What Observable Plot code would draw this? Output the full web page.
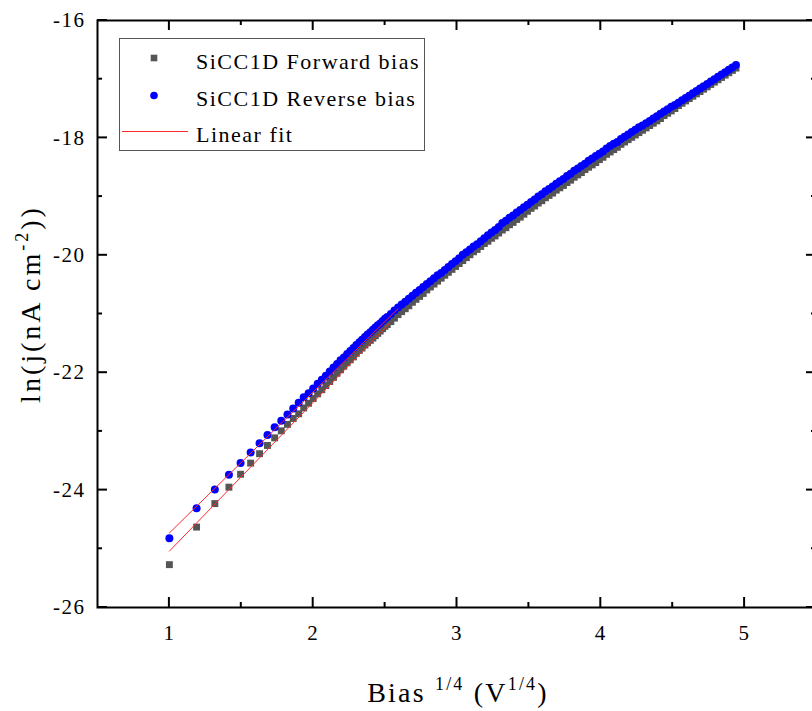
<!DOCTYPE html>
<html><head><meta charset="utf-8">
<script src="https://cdn.jsdelivr.net/npm/d3@7"></script>
<script src="https://cdn.jsdelivr.net/npm/@observablehq/plot@0.6"></script>
<style>
html,body{margin:0;padding:0;background:#fff;overflow:hidden;}
svg{font-family:"Liberation Serif",serif;}
</style></head><body><div id="chart"></div>
<script>
// Bias^(1/4) values (V^1/4)
const biasQuarter = [1, 1.189, 1.316, 1.414, 1.495, 1.565, 1.627, 1.682, 1.732, 1.778,
  1.821, 1.861, 1.899, 1.934, 1.968, 2.0, 2.031, 2.060, 2.088, 2.115,
  2.141, 2.166, 2.190, 2.213, 2.236, 2.258, 2.280, 2.300, 2.321, 2.340,
  2.360, 2.378, 2.397, 2.415, 2.432, 2.449, 2.466, 2.483, 2.499, 2.515,
  2.54, 2.565, 2.59, 2.615, 2.64, 2.665, 2.69, 2.715, 2.74, 2.765,
  2.79, 2.815, 2.84, 2.865, 2.89, 2.915, 2.94, 2.965, 2.99, 3.015,
  3.04, 3.065, 3.09, 3.115, 3.14, 3.165, 3.19, 3.215, 3.24, 3.265,
  3.29, 3.315, 3.34, 3.365, 3.39, 3.415, 3.44, 3.465, 3.49, 3.515,
  3.54, 3.565, 3.59, 3.615, 3.64, 3.665, 3.69, 3.715, 3.74, 3.765,
  3.79, 3.815, 3.84, 3.865, 3.89, 3.915, 3.94, 3.965, 3.99, 4.015,
  4.04, 4.065, 4.09, 4.115, 4.14, 4.165, 4.19, 4.215, 4.24, 4.265,
  4.29, 4.315, 4.34, 4.365, 4.39, 4.415, 4.44, 4.465, 4.49, 4.515,
  4.54, 4.565, 4.59, 4.615, 4.64, 4.665, 4.69, 4.715, 4.74, 4.765,
  4.79, 4.815, 4.84, 4.865, 4.89, 4.915, 4.94];

// SiCC1D Forward bias, ln(j)
const forwardLnJ = [-25.27, -24.63, -24.23, -23.95, -23.73, -23.54, -23.38, -23.24, -23.11, -22.99,
  -22.88, -22.78, -22.70, -22.60, -22.52, -22.44, -22.36, -22.29, -22.22, -22.15,
  -22.08, -22.01, -21.95, -21.89, -21.83, -21.78, -21.73, -21.67, -21.62, -21.58,
  -21.53, -21.49, -21.45, -21.41, -21.37, -21.33, -21.29, -21.25, -21.21, -21.18,
  -21.13, -21.07, -21.01, -20.96, -20.91, -20.86, -20.80, -20.75, -20.70, -20.65,
  -20.59, -20.54, -20.49, -20.44, -20.39, -20.34, -20.29, -20.24, -20.19, -20.14,
  -20.09, -20.04, -19.99, -19.94, -19.90, -19.85, -19.80, -19.76, -19.71, -19.67,
  -19.62, -19.57, -19.53, -19.48, -19.44, -19.39, -19.35, -19.30, -19.25, -19.20,
  -19.16, -19.11, -19.07, -19.02, -18.98, -18.94, -18.89, -18.85, -18.81, -18.76,
  -18.72, -18.67, -18.63, -18.59, -18.54, -18.50, -18.46, -18.42, -18.37, -18.33,
  -18.28, -18.24, -18.20, -18.16, -18.11, -18.07, -18.03, -17.99, -17.95, -17.91,
  -17.87, -17.83, -17.79, -17.75, -17.71, -17.67, -17.62, -17.58, -17.54, -17.50,
  -17.45, -17.41, -17.37, -17.33, -17.29, -17.25, -17.21, -17.17, -17.13, -17.09,
  -17.05, -17.01, -16.97, -16.93, -16.89, -16.85, -16.81];

// SiCC1D Reverse bias, ln(j)
const reverseLnJ = [-24.82, -24.31, -23.99, -23.74, -23.54, -23.36, -23.20, -23.06, -22.93, -22.82,
  -22.71, -22.61, -22.51, -22.42, -22.35, -22.27, -22.19, -22.12, -22.05, -21.98,
  -21.91, -21.85, -21.79, -21.74, -21.68, -21.63, -21.58, -21.53, -21.48, -21.44,
  -21.39, -21.35, -21.31, -21.27, -21.23, -21.19, -21.16, -21.12, -21.08, -21.05,
  -21.00, -20.94, -20.89, -20.84, -20.79, -20.74, -20.69, -20.64, -20.59, -20.54,
  -20.49, -20.44, -20.39, -20.34, -20.30, -20.25, -20.20, -20.15, -20.10, -20.05,
  -19.99, -19.95, -19.90, -19.85, -19.81, -19.76, -19.71, -19.66, -19.61, -19.57,
  -19.52, -19.45, -19.41, -19.36, -19.32, -19.27, -19.23, -19.18, -19.14, -19.09,
  -19.05, -19.00, -18.96, -18.91, -18.87, -18.83, -18.78, -18.74, -18.70, -18.65,
  -18.61, -18.56, -18.52, -18.48, -18.44, -18.39, -18.35, -18.31, -18.27, -18.23,
  -18.18, -18.14, -18.10, -18.07, -18.02, -17.98, -17.94, -17.90, -17.86, -17.82,
  -17.79, -17.75, -17.71, -17.67, -17.63, -17.59, -17.55, -17.51, -17.47, -17.44,
  -17.40, -17.36, -17.32, -17.28, -17.24, -17.20, -17.16, -17.12, -17.08, -17.04,
  -17.00, -16.96, -16.92, -16.88, -16.84, -16.80, -16.76];

// Linear fits (end points)
const fitForwardX = [1, 2.53];
const fitForwardY = [-25.04, -21.16];
const fitReverseX = [1, 2.59];
const fitReverseY = [-24.73, -20.91];

// Ticks
const xMajor = [1, 2, 3, 4, 5];
const xMinor = [1.5, 2.5, 3.5, 4.5];
const yMajor = [-26, -24, -22, -20, -18, -16];
const yMinor = [-25, -23, -21, -19, -17];

const seriesNames = ["SiCC1D Forward bias", "SiCC1D Reverse bias", "Linear fit"];
const colors = {forward: "#555555", reverse: "#0000ff", fit: "#ff2a2a"};

const forward = biasQuarter.map((x, i) => ({x, y: forwardLnJ[i]}));
const reverse = biasQuarter.map((x, i) => ({x, y: reverseLnJ[i]}));
const fitF = fitForwardX.map((x, i) => ({x, y: fitForwardY[i]}));
const fitR = fitReverseX.map((x, i) => ({x, y: fitReverseY[i]}));

const plot = Plot.plot({
  width: 816, height: 711,
  marginLeft: 97, marginRight: 0, marginTop: 20, marginBottom: 104,
  x: {domain: [0.5, 5.5]},
  y: {domain: [-26, -16]},
  style: {fontFamily: "Liberation Serif", fontSize: "21px", color: "black", background: "white", overflow: "visible", maxWidth: "none"},
  marks: [
    Plot.dot(forward, {x: "x", y: "y", symbol: "square", r: 3.9, fill: colors.forward}),
    Plot.dot(reverse, {x: "x", y: "y", symbol: "circle", r: 4, fill: colors.reverse}),
    Plot.line(fitF, {x: "x", y: "y", stroke: colors.fit, strokeWidth: 1}),
    Plot.line(fitR, {x: "x", y: "y", stroke: colors.fit, strokeWidth: 1}),
    Plot.axisX({ticks: xMajor, tickSize: 0, tickPadding: 18, tickFormat: d => String(d), fontSize: 21, label: null}),
    Plot.axisY({ticks: yMajor, tickSize: 0, tickPadding: 12, tickFormat: d => String(d), fontSize: 21, label: null}),
    Plot.frame({stroke: "black", strokeWidth: 2})
  ]
});
plot.style.maxWidth = "none";
plot.style.width = "816px";
plot.style.height = "711px";
document.getElementById("chart").appendChild(plot);

const svg = d3.select(plot);
svg.selectAll("g[aria-label='x-axis tick label'] text, g[aria-label='y-axis tick label'] text")
  .style("letter-spacing", "1.5px");

// Inward ticks on all four sides, positioned through Plot's scales
const sx = plot.scale("x"), sy = plot.scale("y");
const [x0, x1] = sx.range, [y0, y1] = sy.range; // y0 = bottom, y1 = top
const tk = svg.append("g").attr("stroke", "black").attr("stroke-width", 2);
const addX = (vals, len) => vals.forEach(v => {
  const X = sx.apply(v);
  tk.append("line").attr("x1", X).attr("x2", X).attr("y1", y0).attr("y2", y0 - len);
  tk.append("line").attr("x1", X).attr("x2", X).attr("y1", y1).attr("y2", y1 + len);
});
const addY = (vals, len) => vals.forEach(v => {
  const Y = sy.apply(v);
  tk.append("line").attr("y1", Y).attr("y2", Y).attr("x1", x0).attr("x2", x0 + len);
  tk.append("line").attr("y1", Y).attr("y2", Y).attr("x1", x1).attr("x2", x1 - len);
});
addX(xMajor, 10); addX(xMinor, 5);
addY(yMajor, 10); addY(yMinor, 5);

// X axis title
const xt = svg.append("text").attr("x", 458).attr("y", 702).attr("text-anchor", "middle")
  .attr("font-size", 28).attr("fill", "black").style("letter-spacing", "2.2px");
xt.append("tspan").text("Bias ");
xt.append("tspan").attr("font-size", 18).attr("dy", -12).text("1/4");
xt.append("tspan").attr("dy", 12).text(" (V");
xt.append("tspan").attr("font-size", 18).attr("dy", -12).text("1/4");
xt.append("tspan").attr("dy", 12).text(")");

// Y axis title
const yt = svg.append("text").attr("transform", "translate(40,304) rotate(-90)")
  .attr("text-anchor", "middle").attr("font-size", 28).attr("fill", "black").style("letter-spacing", "3px");
yt.append("tspan").text("ln(j(nA cm");
yt.append("tspan").attr("font-size", 18).attr("dy", -12).text("-2");
yt.append("tspan").attr("dy", 12).text("))");

// Legend
const lg = svg.append("g").attr("text-anchor", "start");
lg.append("rect").attr("x", 119.5).attr("y", 38.5).attr("width", 305).attr("height", 112)
  .attr("fill", "white").attr("stroke", "#555").attr("stroke-width", 1);
lg.append("rect").attr("x", 150.7).attr("y", 54.7).attr("width", 6.6).attr("height", 6.6).attr("fill", colors.forward);
lg.append("circle").attr("cx", 154).attr("cy", 95.5).attr("r", 3.8).attr("fill", colors.reverse);
lg.append("line").attr("x1", 122).attr("x2", 188).attr("y1", 131.5).attr("y2", 131.5)
  .attr("stroke", colors.fit).attr("stroke-width", 1);
[69, 106, 142].forEach((yy, i) => {
  lg.append("text").attr("x", 196).attr("y", yy).attr("font-size", 22).attr("fill", "black")
    .attr("text-anchor", "start").style("letter-spacing", "1.5px").text(seriesNames[i]);
});
</script></body></html>
